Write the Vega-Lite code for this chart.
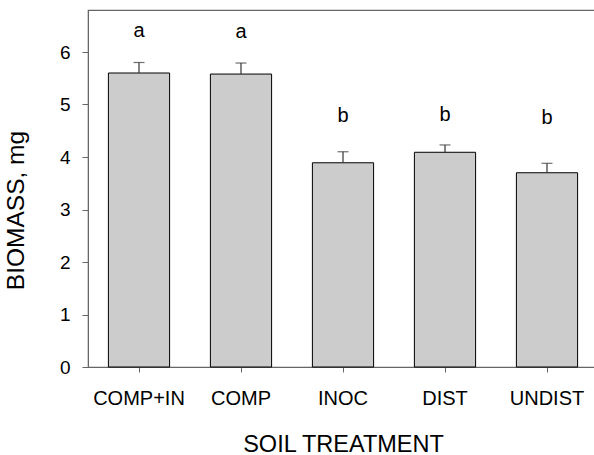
{
  "$schema": "https://vega.github.io/schema/vega-lite/v6.json",
  "autosize": {"type": "none"},
  "padding": {"left": 88, "top": 10, "right": 0, "bottom": 88},
  "width": 510,
  "height": 357,
  "background": "white",
  "config": {
    "font": "Liberation Sans",
    "view": {"stroke": "#666666", "strokeWidth": 1.2},
    "axis": {"grid": false, "labelColor": "black", "titleColor": "black", "labelFont": "Liberation Sans", "titleFont": "Liberation Sans", "titleFontWeight": "normal", "domainColor": "#666666", "tickColor": "#666666"}
  },
  "data": {
    "values": [
      {"treatment": "COMP+IN", "biomass": 5.6, "upper": 5.8, "letter": "a", "letter_at": 6.29},
      {"treatment": "COMP", "biomass": 5.58, "upper": 5.79, "letter": "a", "letter_at": 6.27},
      {"treatment": "INOC", "biomass": 3.89, "upper": 4.1, "letter": "b", "letter_at": 4.67},
      {"treatment": "DIST", "biomass": 4.09, "upper": 4.23, "letter": "b", "letter_at": 4.68},
      {"treatment": "UNDIST", "biomass": 3.7, "upper": 3.88, "letter": "b", "letter_at": 4.63}
    ]
  },
  "encoding": {
    "x": {
      "field": "treatment", "type": "nominal", "sort": null,
      "scale": {"paddingInner": 0.4, "paddingOuter": 0.2},
      "axis": {"title": "SOIL TREATMENT", "labelAngle": 0, "labelFontSize": 20, "titleFontSize": 23.5, "tickSize": 5, "labelPadding": 16, "titleBaseline": "alphabetic", "titleY": 84}
    }
  },
  "layer": [
    {
      "mark": {"type": "bar", "fill": "#cccccc", "stroke": "black", "strokeWidth": 1},
      "encoding": {
        "y": {
          "field": "biomass", "type": "quantitative",
          "scale": {"domain": [0, 6.8], "nice": false},
          "axis": {"title": "BIOMASS, mg", "values": [0, 1, 2, 3, 4, 5, 6], "labelFontSize": 19, "titleFontSize": 24.5, "tickSize": 6, "labelPadding": 12, "titleBaseline": "alphabetic", "titleAngle": -90, "titleAlign": "center", "titleX": -65, "titleY": 200}
        }
      }
    },
    {
      "mark": {"type": "rule", "color": "#333333", "strokeWidth": 1.2},
      "encoding": {
        "y": {"field": "biomass", "type": "quantitative"},
        "y2": {"field": "upper"}
      }
    },
    {
      "mark": {"type": "tick", "color": "#333333", "orient": "horizontal", "size": 11, "thickness": 1.2},
      "encoding": {
        "y": {"field": "upper", "type": "quantitative"}
      }
    },
    {
      "mark": {"type": "text", "fontSize": 20, "baseline": "alphabetic", "color": "black"},
      "encoding": {
        "y": {"field": "letter_at", "type": "quantitative"},
        "text": {"field": "letter"}
      }
    }
  ]
}
